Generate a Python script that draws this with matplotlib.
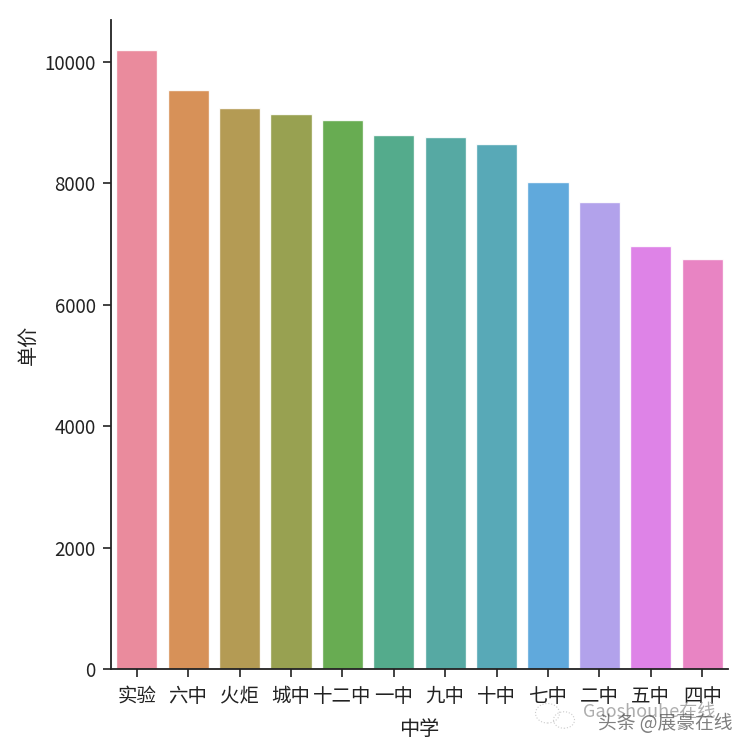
import matplotlib
matplotlib.use('Agg')
import matplotlib.pyplot as plt
from matplotlib.patches import Ellipse
import seaborn as sns

# 各中学的单价
schools = ['实验', '六中', '火炬', '城中', '十二中', '一中', '九中', '十中', '七中', '二中', '五中', '四中']
prices = [10190, 9530, 9245, 9145, 9035, 8790, 8755, 8650, 8025, 7700, 6960, 6755]

sns.set_style('ticks')
plt.rcParams['font.family'] = ['Noto Sans CJK SC', 'DejaVu Sans']
plt.rcParams['axes.unicode_minus'] = False

fig = plt.figure(figsize=(7.5, 7.5), dpi=100)
ax = fig.add_axes([111 / 750, 81 / 750, 617 / 750, 649 / 750])

sns.barplot(x=schools, y=prices, hue=schools, palette='husl', saturation=0.78,
            alpha=0.9, legend=False, ax=ax)

ax.set_xlim(-0.5, 11.5)
ax.set_ylim(0, 10690)
ax.set_yticks([0, 2000, 4000, 6000, 8000, 10000])
ax.tick_params(axis='x', labelsize=14, length=6, width=1.2, colors='#222222', pad=6)
ax.tick_params(axis='y', labelsize=13.5, length=6, width=1.2, colors='#222222', pad=5)
ax.set_xlabel('中学', fontsize=14.5, color='#222222', labelpad=9)
ax.set_ylabel('单价', fontsize=14.5, color='#222222', labelpad=4)
sns.despine(ax=ax)
for side in ['left', 'bottom']:
    ax.spines[side].set_linewidth(1.3)
    ax.spines[side].set_color('#222222')

# 右下角水印
for cx, cy, w, h in [(0.73, 0.049, 0.032, 0.026), (0.752, 0.040, 0.028, 0.022)]:
    fig.add_artist(Ellipse((cx, cy), w, h, transform=fig.transFigure, fill=False,
                           edgecolor='#cccccc', linewidth=0.8, linestyle=':'))
fig.text(0.777, 0.0435, 'Gaoshouhe在线', fontsize=13, color='#999999', alpha=0.8)
fig.text(0.797, 0.0275, '头条 @展豪在线', fontsize=13.5, color='#555555', alpha=0.75)

fig.savefig('out.png', dpi=100)
